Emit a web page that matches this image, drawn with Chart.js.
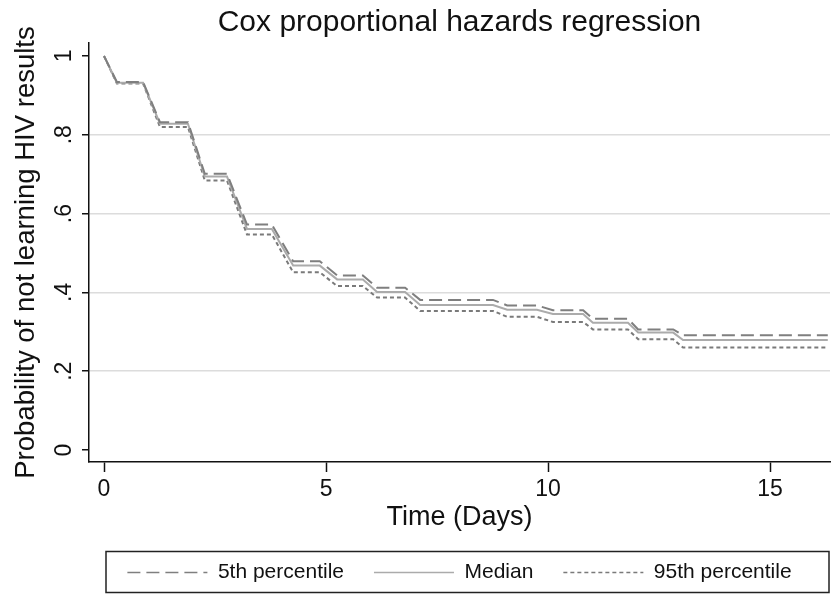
<!DOCTYPE html>
<html lang="en">
<head>
  <meta charset="UTF-8" />
  <title>Cox proportional hazards regression</title>
  <script src="https://cdn.jsdelivr.net/npm/chart.js"></script>
  <style>
    body { margin: 0; background: #fff; }
    .wrap { width: 831px; height: 595px; position: relative; }
  </style>
</head>
<body>
  <div class="wrap"><canvas id="chart"></canvas></div>
  <script>
    // corner points of the step curves (days)
    const times = [0, 0.29, 0.88, 1.26, 1.89, 2.27, 2.77, 3.22, 3.78, 4.26, 4.86, 5.25, 5.83, 6.15,
                   6.78, 7.12, 8.76, 9.08, 9.75, 10.11, 10.79, 11.01, 11.80, 12.03, 12.82, 13.04, 16.3];
    const p5 = [1, 0.934, 0.934, 0.832, 0.832, 0.701, 0.701, 0.572, 0.572, 0.479, 0.479, 0.443, 0.443, 0.412,
                0.412, 0.381, 0.381, 0.367, 0.367, 0.355, 0.355, 0.333, 0.333, 0.306, 0.306, 0.291, 0.291];
    const median = [1, 0.932, 0.932, 0.828, 0.828, 0.694, 0.694, 0.561, 0.561, 0.468, 0.468, 0.433, 0.433, 0.401,
                    0.401, 0.368, 0.368, 0.356, 0.356, 0.345, 0.345, 0.323, 0.323, 0.298, 0.298, 0.279, 0.279];
    const p95 = [1, 0.930, 0.930, 0.820, 0.820, 0.684, 0.684, 0.547, 0.547, 0.451, 0.451, 0.416, 0.416, 0.387,
                 0.387, 0.353, 0.353, 0.338, 0.338, 0.325, 0.325, 0.306, 0.306, 0.281, 0.281, 0.260, 0.260];
    const seriesNames = ['5th percentile', 'Median', '95th percentile'];
    const xTicks = [0, 5, 10, 15];
    const yTicks = [0, 0.2, 0.4, 0.6, 0.8, 1];

    const FONT = '"Liberation Sans", Arial, Helvetica, sans-serif';
    const toPoints = vals => times.map((t, i) => ({ x: t, y: vals[i] }));

    // draws the frame around the legend, like Stata does
    const legendFrame = {
      id: 'legendFrame',
      afterDraw(chart) {
        const hb = chart.legend && chart.legend.legendHitBoxes;
        if (!hb || !hb.length) return;
        const ca = chart.chartArea;
        const cy = hb[0].top + hb[0].height / 2;
        const ctx = chart.ctx;
        ctx.save();
        ctx.strokeStyle = '#222';
        ctx.lineWidth = 1.5;
        ctx.setLineDash([]);
        ctx.strokeRect(ca.left + 17, cy - 21, ca.right - 1 - (ca.left + 17), 41);
        ctx.restore();
      }
    };

    new Chart(document.getElementById('chart'), {
      type: 'line',
      data: {
        datasets: [
          { label: seriesNames[0], data: toPoints(p5), borderColor: '#7f7f7f', borderWidth: 2, borderDash: [13, 6] },
          { label: seriesNames[1], data: toPoints(median), borderColor: '#ababab', borderWidth: 2 },
          { label: seriesNames[2], data: toPoints(p95), borderColor: '#7a7a7a', borderWidth: 2, borderDash: [4, 3] }
        ]
      },
      options: {
        responsive: true,
        maintainAspectRatio: false,
        animation: false,
        parsing: false,
        elements: { point: { radius: 0 }, line: { tension: 0, fill: false, backgroundColor: 'transparent' } },
        layout: { padding: { left: 0, right: 1, top: 0, bottom: 2 } },
        plugins: {
          title: {
            display: true,
            text: 'Cox proportional hazards regression',
            fullSize: false,
            color: '#111',
            font: { family: FONT, size: 30, weight: 'normal' },
            padding: { top: 4.7, bottom: 2.3 }
          },
          legend: {
            position: 'bottom',
            fullSize: false,
            labels: {
              usePointStyle: true,
              pointStyle: 'line',
              pointStyleWidth: 80,
              padding: 30,
              color: '#111',
              font: { family: FONT, size: 21 },
              generateLabels: chart => {
                const items = Chart.defaults.plugins.legend.labels.generateLabels(chart);
                items.forEach(it => {
                  const ds = chart.data.datasets[it.datasetIndex];
                  it.lineDash = ds.borderDash || [];
                  it.strokeStyle = ds.borderColor;
                  it.lineWidth = 1.5;
                });
                return items;
              }
            }
          },
          tooltip: { enabled: false }
        },
        scales: {
          x: {
            type: 'linear',
            min: -0.338,
            max: 16.35,
            afterBuildTicks: s => { s.ticks = xTicks.map(v => ({ value: v })); },
            afterFit: s => { s.height = 70; },
            border: { color: '#111', width: 1.5 },
            grid: { drawOnChartArea: false, drawTicks: true, tickLength: 10, tickColor: '#111', tickWidth: 1.5 },
            ticks: { color: '#111', font: { family: FONT, size: 23 }, padding: 4, maxRotation: 0 },
            title: {
              display: true,
              text: 'Time (Days)',
              color: '#111',
              font: { family: FONT, size: 27, lineHeight: 0.8 },
              padding: { top: 0, bottom: 4 }
            }
          },
          y: {
            type: 'linear',
            min: -0.0304,
            max: 1.0329,
            afterBuildTicks: s => { s.ticks = yTicks.map(v => ({ value: v })); },
            afterFit: s => { s.width = 89; },
            border: { color: '#111', width: 1.5 },
            grid: {
              drawTicks: true,
              tickLength: 7,
              tickColor: '#111',
              tickWidth: 1.5,
              color: c => (c.tick && (c.tick.value === 0 || c.tick.value === 1)) ? 'rgba(0,0,0,0)' : '#dcdcdc',
              lineWidth: 1.5
            },
            ticks: {
              color: '#111',
              font: { family: FONT, size: 23 },
              minRotation: 90,
              maxRotation: 90,
              crossAlign: 'center',
              padding: 8,
              callback: v => (v === 0 || v === 1) ? String(v) : v.toFixed(1).replace(/^0\./, '.')
            },
            title: {
              display: true,
              text: 'Probability of not learning HIV results',
              color: '#111',
              font: { family: FONT, size: 27.5 },
              padding: { top: 10, bottom: 0 }
            }
          }
        }
      },
      plugins: [legendFrame]
    });
  </script>
</body>
</html>
